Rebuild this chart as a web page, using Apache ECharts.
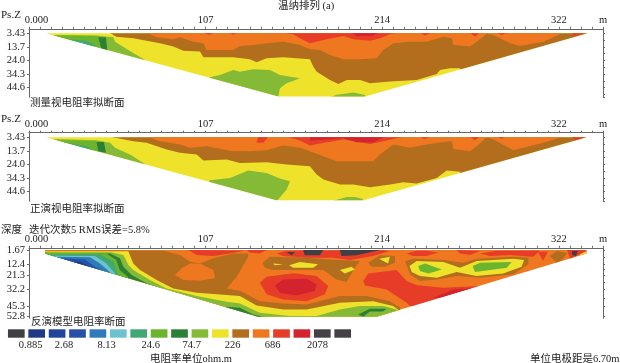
<!DOCTYPE html>
<html>
<head>
<meta charset="utf-8">
<script src="https://cdn.jsdelivr.net/npm/echarts@6/dist/echarts.min.js"></script>
<style>
html, body { margin: 0; padding: 0; background: #fff; }
#main { width: 620px; height: 363px; }
</style>
</head>
<body>
<div id="main"></div>
<script>
// axis values (metres)
var xTickValues = [];
for (var n = 0; n <= 52; n++) { xTickValues.push(+(n * 6.7).toFixed(1)); }
var xLabelValues = [0, 107.2, 214.4, 321.6, 348.4];
var xLabelTexts = ['{first|0.000}', '107', '214', '322', 'm'];
var pseudoLabels = [3.43, 13.7, 24.0, 34.3, 44.6];
var pseudoTicks = [3.43, 8.6, 13.7, 18.9, 24.0, 29.2, 34.3, 39.5, 44.6, 49.6, 51.9];
var modelLabels = [1.67, 12.4, 21.3, 32.2, 45.3, 52.8];
var modelTicks = [1.67, 7, 12.4, 16.8, 21.3, 26.7, 32.2, 38.7, 45.3, 52.8];

// colour scale: resistivity classes and their labels
var legendColors = ['#3f3f44', '#1e3a86', '#22459c', '#2750a8', '#2f7ab8', '#6cc3cf', '#3fa873', '#6ab42e',
    '#2b8034', '#84ba36', '#eee32a', '#b26d1d', '#ee7720', '#e73c28', '#d2232e', '#434046', '#434046'];
var legendValues = [1, 1, 1, 1, 1, 1, 1, 1, 1, 1, 1, 1, 1, 1, 1, 1, 1];
var legendLabelPos = [1.2, 2.84, 4.93, 7.09, 9.1, 11.1, 13.07, 15.27];
var legendLabelTexts = ['0.885', '2.68', '8.13', '24.6', '74.7', '226', '686', '2078'];

var c = { dark: '#3f3f44', navy: '#1e3a86', blue: '#2750a8', sky: '#2f7ab8', cyan: '#6cc3cf', teal: '#3fa873',
    green: '#6ab42e', deep: '#2b8034', mid: '#84ba36', yellow: '#eee32a', brown: '#b26d1d', orange: '#ee7720',
    red: '#e73c28', crimson: '#d2232e' };

// contour outlines: [distance m, depth m]
var fullArea = [[0, 0], [348.4, 0], [348.4, 60], [0, 60]];

// measured apparent resistivity
var s1Outline = [[10.3, 3.43], [339, 3.43], [204, 51.4], [151.5, 51.4]];
var s1Brown = [[49, 3], [53, 6], [63.3, 7.2], [71.4, 9], [79.5, 11], [87.6, 13.5], [93.7, 16.6], [103.8, 17.3], [105.8, 21.6],
    [124, 21.6], [134, 23.1], [138.2, 25.4], [144.2, 22.4], [154.4, 21.6], [170.5, 23.1], [172.6, 28.7], [174.6, 32.5],
    [182.7, 38.8], [187.8, 41.8], [192.9, 38.8], [201, 38.8], [207, 41.3], [219.2, 40], [235.3, 38.8], [247.5, 34.3],
    [249.5, 31.2], [255.6, 30], [261.6, 30], [265, 40], [345, 40], [345, 3]];
var s1Orange = [[71.4, 3], [77.5, 6.5], [87.6, 8], [91.6, 6.5], [99.7, 9.8], [105.8, 11], [107.8, 16], [124, 16], [128, 13],
    [136.2, 12.3], [144.2, 11], [154.4, 9.8], [164.5, 12.3], [170.5, 15.6], [176.7, 16], [182.7, 19.9], [190.8, 23.1],
    [201, 23.1], [211, 22.4], [215.1, 16], [221.2, 11], [231.3, 9.8], [241.4, 9.8], [251.5, 6], [256.6, 7.2], [257.6, 12.3],
    [267.7, 13.5], [271.8, 9.8], [277.8, 3.9], [281.9, 4.7], [292, 11], [298, 13], [312.2, 9.8], [321.3, 4.7], [323.3, 3]];
var s1Red = [[154.4, 3], [160.3, 4.2], [164.5, 7.2], [170.5, 11], [180.7, 8], [190.8, 5.5], [196.9, 8], [207, 9], [213, 7.2],
    [219.2, 4.2], [223.2, 3]];
var s1Core = [[195.9, 3], [198.9, 5.5], [208, 5.5], [212, 3]];
var s1Tip = [[329.4, 3], [339, 3], [330.4, 5.5]];
var s1Speck1 = [[105.8, 3], [109, 4.5], [112.9, 3]];
var s1Speck2 = [[122, 3], [124, 4.5], [126.4, 3]];
var s1Speck3 = [[237.4, 3], [240.4, 5], [244.4, 3]];
var s1Speck4 = [[267.7, 3], [270.7, 6], [273.4, 3]];
var s1Speck5 = [[283.9, 3], [286.9, 4.7], [290, 3]];
var s1Low = [[109.8, 36.8], [115.9, 35], [124, 31.2], [128, 32.5], [136.2, 30.7], [146.3, 31.2], [152.3, 35], [164.5, 37.6],
    [156.4, 41.3], [152.3, 45.1], [151.3, 52], [100, 52]];
var s1LowRight = [[182.7, 52], [186.8, 50], [192.9, 49], [196.9, 48.4], [204, 50.2], [204, 52]];
var s1EdgeMid = [[14.8, 4.7], [41, 5], [51.2, 6.5], [52.2, 9.8], [60.3, 16], [70.4, 23.6], [70, 30], [14, 10]];
var s1EdgeGreen = [[15.8, 5], [42, 5.5], [43, 16], [15, 16]];
var s1EdgeTeal = [[21.8, 8], [35, 9], [40, 12.3], [40, 20], [21, 20]];
var s1EdgeCyan = [[25.9, 10], [33, 10.5], [33, 16], [25.9, 16]];
var s1EdgeDeep = [[42, 6.5], [46.7, 6.5], [47.5, 16], [44, 16]];

// calculated apparent resistivity
var s2Outline = [[10.3, 3.43], [338.5, 3.43], [203, 51.2], [150.3, 51.2]];
var s2Brown = [[49, 3], [63.3, 6.5], [71.4, 7.7], [83.5, 12.8], [91.6, 15.3], [101.8, 16.6], [105.8, 21.1], [120, 20.4],
    [128, 22.9], [144.2, 22.4], [156.4, 24.2], [170.5, 25.4], [174.6, 31.7], [178.7, 35.5], [188.8, 39.3], [196.9, 39.3],
    [207, 41.3], [219.2, 39.3], [227.2, 37.6], [235.3, 38.6], [247.5, 34.3], [253.5, 28.7], [258.6, 29.2], [261.6, 29.7],
    [265, 40], [345, 40], [345, 3]];
var s2Orange = [[71.4, 3], [79.5, 6.5], [91.6, 9], [97.7, 11.5], [107.8, 10.3], [124, 14], [134, 14], [144.2, 13.3],
    [154.4, 9.8], [164.5, 11.5], [170.5, 14], [178.7, 17.8], [186.8, 21.6], [209, 21.6], [213, 16.6], [221.2, 9], [231.3, 11.5],
    [241.4, 9], [251.5, 7], [256.6, 6.5], [257.6, 12.3], [267.7, 14], [271.8, 10.3], [277.8, 3.4], [281.9, 5.2], [294, 13.3],
    [312.2, 7.7], [324.3, 3]];
var s2Red = [[156.4, 3], [164.5, 6], [170.5, 9.8], [180.7, 7.2], [190.8, 5.2], [207, 8.5], [215.1, 6.5], [227.2, 3]];
var s2Core = [[170.6, 3], [170.6, 6], [180.7, 5.2], [190.8, 4], [198.9, 7.2], [209, 7.2], [216, 3]];
var s2Blob = [[139.2, 3], [145.2, 3], [142.2, 7.7], [138.2, 7.7]];
var s2Tip = [[329.4, 3], [339, 3], [331.4, 5.7]];
var s2Speck1 = [[237, 3], [240, 4.7], [244, 3]];
var s2Speck2 = [[267.7, 3], [270.7, 5.7], [273.4, 3]];
var s2Speck3 = [[283.9, 3], [286.9, 4.5], [288.9, 3]];
var s2Low = [[109.8, 36], [122, 34.3], [133, 28.7], [144.2, 30.5], [152.3, 34.8], [158.4, 36.8], [156.4, 43.1], [150.3, 52], [100, 52]];
var s2LowRight = [[183.7, 52], [192.9, 48.7], [197.9, 48.7], [202.6, 50.2], [203, 52]];
var s2EdgeMid = [[14.8, 4.7], [41, 5.7], [49.2, 7.7], [52.2, 11.5], [61.3, 16.6], [70.4, 23.7], [70, 30], [14, 10]];
var s2EdgeGreen = [[15.8, 5.7], [41, 6.5], [43, 20], [15, 20]];
var s2EdgeTeal = [[20.8, 7.2], [35, 10.3], [40, 14], [40, 20], [20.8, 20]];
var s2EdgeCyan = [[24.9, 9.5], [31, 11], [31, 16], [24.9, 16]];
var s2EdgeDeep = [[41, 7], [45.5, 7], [46.7, 15.3], [42, 14]];

// inverted model resistivity
var s3Outline = [[9.7, 1.67], [338.5, 1.67], [338.5, 4.3], [211, 53], [139.2, 53], [9.7, 4.3]];
var s3Brown = [[9.7, 2.2], [81.5, 2.2], [91.6, 5.5], [97.7, 10.7], [103.8, 12], [111.9, 8.1], [124, 4.3], [133.1, 4.3], [133.1, 6.8],
    [126, 22.2], [120, 31.2], [128, 33], [140.1, 41], [154.3, 42.8], [168.5, 43.5], [188.7, 37], [204.9, 37], [219, 41],
    [225.1, 46], [227, 60], [9.7, 60]];
var s3Bubble = [[88.6, 20.9], [92.7, 15.8], [97.7, 12], [103.8, 12], [111.9, 17], [112.9, 23.5], [103.8, 25.3], [93.7, 24.8]];
var s3Yellow = [[9.7, 2.7], [60.3, 2.7], [63.3, 12], [67.4, 17], [77.5, 24.8], [87.6, 31.2], [101.8, 34.5], [120, 36.3],
    [128, 37.1], [138.1, 44.3], [154.3, 47.4], [168.5, 47.4], [188.7, 42.2], [208.9, 41], [221, 44.8], [224, 47.4], [227, 60], [9.7, 60]];
var s3Mid = [[9.7, 3.5], [50, 3.5], [57.3, 5.5], [60.3, 13.2], [63.3, 17], [73.4, 24.8], [83.5, 31.2], [101.8, 37], [120, 41.4],
    [128, 42.8], [140.1, 50], [158.3, 52.5], [174.5, 52.5], [188.7, 47.4], [200.8, 44.8], [215, 44.8], [223.1, 47.4], [227, 60], [9.7, 60]];
var s3Deep = [[9.7, 4.3], [49.2, 4.3], [55.2, 8.1], [57.3, 14.5], [62.3, 20.9], [71.4, 27.3], [81.5, 31.7], [88.6, 35.5], [88, 60], [9.7, 60]];
var s3DeepLeft = [[120, 45.3], [128, 46.1], [136.1, 51.2], [147, 54.5], [135, 56], [118, 50]];
var s3DeepRight = [[199.8, 51.2], [206.9, 46.9], [217, 46.9], [215, 49], [206.9, 49], [202.9, 53]];
var s3Green = [[9.7, 3.7], [47, 4.3], [53, 9.4], [55, 17], [60.3, 22.7], [60, 60], [9.7, 60]];
var s3Teal = [[12.7, 5], [43, 5], [51.2, 10.7], [54.2, 20.9], [54, 60], [12, 60]];
var s3Cyan = [[15.8, 6.1], [40, 6.3], [47, 12], [53, 20.9], [53, 60], [15, 60]];
var s3Sky = [[16.8, 6.8], [37, 7.3], [43, 12], [50, 19.6], [50, 60], [16, 60]];
var s3Blue = [[18.8, 8.1], [34, 8.9], [40, 14.5], [47, 18.9], [47, 60], [18, 60]];
var s3Navy = [[22.9, 10.7], [31, 10.7], [37, 14.5], [42, 17.6], [42, 60], [22, 60]];
var s3RedA = [[96.7, 1.7], [101.8, 5.5], [111.9, 6.3], [122, 4.3], [131, 2]];
var s3RedB = [[132, 1.7], [144.2, 1.7], [140, 4.3], [134, 3.7]];
var s3RedC = [[150.3, 4.3], [156.3, 2.2], [213, 1.7], [219, 2.5], [208.9, 6.3], [194.8, 9.4], [184.6, 7.6], [168.5, 7.6], [154.3, 6.3]];
var s3RedD = [[229.2, 4.3], [235.2, 2.2], [241.3, 2.2], [248.4, 3.7], [241.3, 6.3], [233.2, 6.3]];
var s3RedE = [[259.6, 1.7], [273.8, 2.5], [267.7, 5.5], [261.6, 4.3]];
var s3RedF = [[273.8, 4.3], [283.9, 2.2], [310.2, 2.2], [306.1, 6.8], [292, 5.5], [279.8, 6.3]];
var s3RedG = [[309, 3], [315, 3], [312, 10]];
var s3DarkA = [[156.3, 3.2], [161.4, 3.2], [159.4, 5.8]];
var s3DarkB = [[166.4, 1.7], [178.6, 1.7], [176.6, 5.8], [167.4, 5.8]];
var s3DarkC = [[188.7, 1.7], [213, 1.7], [198.8, 5.8], [189.7, 6.3]];
var s3Ring1 = [[141.8, 11.4], [146.2, 6.8], [168.5, 7.6], [182.6, 8.9], [200.8, 10.2], [197.8, 15.3], [192.7, 26.3], [186.7, 24.3],
    [178.6, 17.1], [148.2, 17.1], [143.2, 15.3]];
var s3Ring2 = [[205.9, 11.4], [213, 5.8], [222.1, 6.3], [222.1, 11.4], [216, 14.5], [207.9, 14.5]];
var s3SpotA = [[148.2, 12], [154.3, 12.7], [149.2, 13.5]];
var s3SpotB = [[157.9, 13.5], [164.4, 11], [175.5, 12.7], [172.5, 15.3], [160.4, 15.3]];
var s3SpotC = [[188.7, 17.1], [195.8, 14.5], [197.8, 16.6], [191.7, 19.7]];
var s3SpotD = [[212.6, 8.4], [219, 6.8], [218, 12], [215, 10.2]];
var s3MidRed = [[140.1, 26.8], [144.2, 22.2], [160.4, 19.6], [174.5, 21.7], [181.6, 29.4], [179.6, 35.8], [168.5, 41], [154.3, 39.7], [144.2, 35.8]];
var s3MidCore = [[149.2, 28.9], [154.3, 24.3], [168.5, 23.8], [174.5, 28.1], [173.5, 33.3], [162.4, 36.6], [152.3, 34.5]];
var s3BigRed = [[202.9, 25.6], [205.9, 19.7], [223.1, 17.1], [229.2, 25.6], [235.5, 28.8], [251.5, 30.7], [273.8, 29.4], [282.9, 27.9],
    [282, 45], [231.2, 44.8], [229.2, 42.2], [217, 32], [203.9, 28.9]];
var s3EdgeCore = [[245.4, 38.4], [257.6, 32], [273.8, 30.7], [251.5, 38.4]];
var s3BlobBrown = [[228.2, 10.2], [233.3, 8.4], [251.5, 9.4], [263.6, 11.4], [271.7, 8.4], [294, 6.8], [303.1, 7.6], [303.1, 12.7],
    [294, 20.4], [273.8, 23], [259.6, 21.7], [247.5, 24.3], [237.3, 25.6], [231.3, 20.4]];
var s3BlobYellow = [[230.9, 14], [235.3, 10.2], [251.5, 11], [261.6, 15.3], [271.7, 10.2], [294, 8.4], [300.5, 9.4], [299, 14.5],
    [287.9, 19.7], [271.7, 21.7], [259.6, 18.6], [247.5, 23], [237.3, 21.7], [232.3, 18.6]];
var s3BlobGreenA = [[236.3, 14], [240.4, 12], [250.5, 16.6], [242.4, 19.7], [237.3, 17.9]];
var s3BlobGreenB = [[269.3, 14], [273.8, 11.4], [293, 11], [290, 15.3], [270.7, 18.6]];
var s3TipBrown = [[316, 6.3], [320.5, 2.5], [326.6, 4], [324, 8.6], [320.5, 11.7]];
var s3TipRed = [[326.6, 1.7], [338.5, 1.7], [336, 4], [328.4, 8.6]];
var s3TipDark = [[329.6, 2.5], [333.2, 2.5], [332, 6.3], [329.6, 5.5]];
var s3TipYellow = [[336, 4], [338.5, 3], [338.5, 4.5], [334, 6]];

// painted back to front
var layers1 = [[c.yellow, fullArea], [c.brown, s1Brown], [c.orange, s1Orange], [c.red, s1Red], [c.crimson, s1Core], [c.red, s1Tip],
    [c.red, s1Speck1], [c.red, s1Speck2], [c.red, s1Speck3], [c.red, s1Speck4], [c.red, s1Speck5], [c.mid, s1Low], [c.mid, s1LowRight],
    [c.mid, s1EdgeMid], [c.green, s1EdgeGreen], [c.teal, s1EdgeTeal], [c.cyan, s1EdgeCyan], [c.deep, s1EdgeDeep]];
var layers2 = [[c.yellow, fullArea], [c.brown, s2Brown], [c.orange, s2Orange], [c.red, s2Red], [c.crimson, s2Core], [c.red, s2Blob], [c.red, s2Tip],
    [c.red, s2Speck1], [c.red, s2Speck2], [c.red, s2Speck3], [c.mid, s2Low], [c.mid, s2LowRight],
    [c.mid, s2EdgeMid], [c.green, s2EdgeGreen], [c.teal, s2EdgeTeal], [c.cyan, s2EdgeCyan], [c.deep, s2EdgeDeep]];
var layers3 = [[c.orange, fullArea], [c.brown, s3Brown], [c.orange, s3Bubble], [c.yellow, s3Yellow], [c.mid, s3Mid], [c.deep, s3Deep],
    [c.deep, s3DeepLeft], [c.deep, s3DeepRight], [c.green, s3Green], [c.teal, s3Teal], [c.cyan, s3Cyan], [c.sky, s3Sky], [c.blue, s3Blue], [c.navy, s3Navy],
    [c.red, s3RedA], [c.red, s3RedB], [c.red, s3RedC], [c.red, s3RedD], [c.red, s3RedE], [c.red, s3RedF], [c.red, s3RedG],
    [c.dark, s3DarkA], [c.dark, s3DarkB], [c.dark, s3DarkC], [c.brown, s3Ring1], [c.brown, s3Ring2],
    [c.yellow, s3SpotA], [c.yellow, s3SpotB], [c.yellow, s3SpotC], [c.yellow, s3SpotD],
    [c.red, s3MidRed], [c.crimson, s3MidCore], [c.red, s3BigRed], [c.crimson, s3EdgeCore],
    [c.brown, s3BlobBrown], [c.yellow, s3BlobYellow], [c.green, s3BlobGreenA], [c.green, s3BlobGreenB],
    [c.brown, s3TipBrown], [c.red, s3TipRed], [c.dark, s3TipDark], [c.yellow, s3TipYellow]];

var fontName = '"Liberation Serif", "Noto Sans CJK SC", serif';
var ink = '#222';
var axisInk = '#666';

function sectionSeries(index, layers, outline) {
    return {
        type: 'custom',
        xAxisIndex: index,
        yAxisIndex: index * 2,
        silent: true,
        clip: false,
        data: layers.map(function(l, i) { return [i]; }),
        renderItem: function(params, api) {
            var layer = layers[params.dataIndex];
            return {
                type: 'polygon',
                shape: { points: layer[1].map(function(p) { return api.coord(p); }) },
                style: { fill: layer[0] },
                clipPath: { type: 'polygon', shape: { points: outline.map(function(p) { return api.coord(p); }) } }
            };
        }
    };
}

function topAxis(index) {
    return {
        type: 'value', gridIndex: index, position: 'top', min: 0, max: 348.4,
        axisLine: { onZero: false, lineStyle: { color: axisInk } },
        axisTick: { length: 2, customValues: xTickValues, lineStyle: { color: axisInk } },
        splitLine: { show: false },
        axisLabel: {
            customValues: xLabelValues, margin: 3, color: ink, fontFamily: fontName, fontSize: 10.5, hideOverlap: false,
            showMinLabel: true, showMaxLabel: true,
            rich: { first: { padding: [0, 0, 0, 15], color: ink, fontFamily: fontName, fontSize: 10.5 } },
            formatter: function(v) { return xLabelTexts[xLabelValues.indexOf(v)]; }
        }
    };
}

function leftAxis(index, max, labels) {
    // the blank last stop keeps the overlap check away from the real bottom label
    return {
        type: 'value', gridIndex: index, position: 'left', min: 0, max: max, inverse: true,
        axisLine: { onZero: false, lineStyle: { color: axisInk } },
        axisTick: { length: 2, customValues: labels, lineStyle: { color: axisInk } },
        splitLine: { show: false },
        axisLabel: {
            customValues: labels.concat([max]), margin: 4, color: ink, fontFamily: fontName, fontSize: 10.5, hideOverlap: false,
            showMinLabel: true,
            formatter: function(v) {
                if (v === max) { return ''; }
                return v === 24 ? '24.0' : String(v);
            }
        }
    };
}

function rightAxis(index, max, ticks) {
    return {
        type: 'value', gridIndex: index, position: 'right', min: 0, max: max, inverse: true,
        axisLine: { onZero: false, lineStyle: { color: axisInk } },
        axisTick: { length: 2, customValues: ticks, lineStyle: { color: axisInk } },
        splitLine: { show: false },
        axisLabel: { show: false }
    };
}

function note(text, left, top, size) {
    return { text: text, left: left, top: top, padding: 0, textStyle: { color: ink, fontFamily: fontName, fontSize: size || 10.5, fontWeight: 'normal' } };
}

var myChart = echarts.init(document.getElementById('main'));
var option = {
    animation: false,
    backgroundColor: '#fff',
    title: [
        note('温纳排列 (a)', 278, 1),
        note('Ps.Z', 1, 10, 11),
        note('测量视电阻率拟断面', 30, 98),
        note('Ps.Z', 1, 114, 11),
        note('正演视电阻率拟断面', 30, 204),
        note('深度', 1, 225),
        note('迭代次数5 RMS误差=5.8%', 29, 225),
        note('反演模型电阻率断面', 31, 317),
        note('电阻率单位ohm.m', 150, 354),
        note('单位电极距是6.70m', 530, 354)
    ],
    grid: [
        { left: 29, top: 28.8, width: 574, height: 68.5 },
        { left: 29, top: 132.7, width: 574, height: 68.5 },
        { left: 29, top: 247.8, width: 574, height: 70.5 },
        { left: 6.1, top: 329.3, width: 346.8, height: 8.4 }
    ],
    xAxis: [
        topAxis(0), topAxis(1), topAxis(2),
        { type: 'category', gridIndex: 3, show: false, data: legendColors },
        {
            type: 'value', gridIndex: 3, position: 'bottom', min: 0, max: 17,
            axisLine: { show: false }, axisTick: { show: false }, splitLine: { show: false },
            axisLabel: {
                customValues: legendLabelPos, margin: 2, color: ink, fontFamily: fontName, fontSize: 10.5, hideOverlap: false,
                formatter: function(v) { return legendLabelTexts[legendLabelPos.indexOf(v)]; }
            }
        }
    ],
    yAxis: [
        leftAxis(0, 51.96, pseudoLabels), rightAxis(0, 51.96, pseudoTicks),
        leftAxis(1, 51.96, pseudoLabels), rightAxis(1, 51.96, pseudoTicks),
        leftAxis(2, 54.2, modelLabels), rightAxis(2, 54.2, modelTicks),
        { type: 'value', gridIndex: 3, show: false, min: 0, max: 1 }
    ],
    series: [
        sectionSeries(0, layers1, s1Outline),
        sectionSeries(1, layers2, s2Outline),
        sectionSeries(2, layers3, s3Outline),
        {
            type: 'bar',
            xAxisIndex: 3,
            yAxisIndex: 6,
            silent: true,
            barWidth: 16.7,
            data: legendValues.map(function(v, i) {
                return { value: v, itemStyle: { color: legendColors[i] } };
            })
        }
    ]
};
myChart.setOption(option);
</script>
</body>
</html>
